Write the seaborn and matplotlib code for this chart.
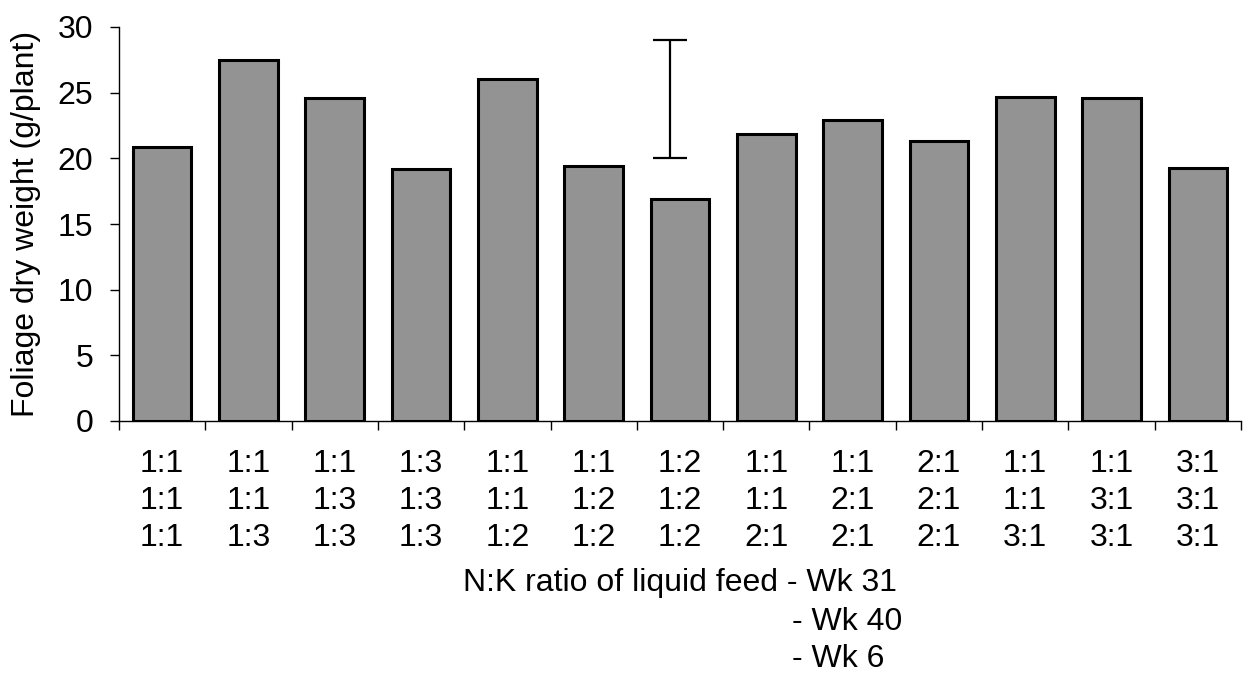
import matplotlib
matplotlib.use("Agg")
import matplotlib.pyplot as plt
import pandas as pd
import seaborn as sns
from matplotlib.ticker import FixedLocator

# N:K ratio of liquid feed at the three dates
wk31 = ["1:1", "1:1", "1:1", "1:3", "1:1", "1:1", "1:2", "1:1", "1:1", "2:1", "1:1", "1:1", "3:1"]
wk40 = ["1:1", "1:1", "1:3", "1:3", "1:1", "1:2", "1:2", "1:1", "2:1", "2:1", "1:1", "3:1", "3:1"]
wk6 = ["1:1", "1:3", "1:3", "1:3", "1:2", "1:2", "1:2", "2:1", "2:1", "2:1", "3:1", "3:1", "3:1"]
foliage_dw = [20.9, 27.45, 24.6, 19.15, 26.05, 19.4, 16.9, 21.85, 22.9, 21.35, 24.65, 24.6, 19.25]

# LSD bar (low, high) and where it sits
lsd_low, lsd_high = 20.0, 29.0
lsd_x = 5.88

FS = 23
W, H = 1252, 680


def main():
    sns.set_theme(style="ticks")
    plt.rcParams["font.family"] = ["Liberation Sans", "DejaVu Sans"]
    plt.rcParams["text.color"] = "black"
    plt.rcParams["xtick.color"] = "black"
    plt.rcParams["ytick.color"] = "black"
    plt.rcParams["axes.labelcolor"] = "black"

    labels = ["\n".join(t) for t in zip(wk31, wk40, wk6)]
    df = pd.DataFrame({"ratio": labels, "dw": foliage_dw})

    fig = plt.figure(figsize=(W / 100, H / 100), dpi=100)
    ax = fig.add_axes([119 / W, 1 - 421 / H, 1122 / W, 394 / H])

    sns.barplot(data=df, x="ratio", y="dw", color="#939393", saturation=1,
                edgecolor="black", linewidth=2.2, width=0.68, ax=ax)

    ax.errorbar(lsd_x, (lsd_low + lsd_high) / 2, yerr=(lsd_high - lsd_low) / 2,
                fmt="none", ecolor="black", elinewidth=1.6, capsize=12, capthick=1.6)

    ax.set_xlim(-0.5, len(labels) - 0.5)
    ax.set_ylim(0, 30)
    ax.set_yticks(range(0, 31, 5))
    ax.tick_params(axis="y", labelsize=FS, length=6.5, width=1, pad=12)
    ax.tick_params(axis="x", which="major", labelsize=FS, length=0, pad=20)
    ax.xaxis.set_minor_locator(FixedLocator([i - 0.5 for i in range(len(labels) + 1)]))
    ax.tick_params(axis="x", which="minor", length=6.5, width=1)
    for lab in ax.get_xticklabels():
        lab.set_linespacing(1.31)

    sns.despine(ax=ax)
    for side in ["left", "bottom"]:
        ax.spines[side].set_color("black")
        ax.spines[side].set_linewidth(1)

    ax.set_xlabel("")
    ax.set_ylabel("Foliage dry weight (g/plant)", fontsize=FS)
    ax.yaxis.set_label_coords(-0.0695, 0.5)

    # x-axis title with the week list hanging under "- Wk 31"
    fig.text(463 / W, 1 - 568 / H, "N:K ratio of liquid feed - Wk 31",
             ha="left", va="top", fontsize=FS)
    fig.text(792 / W, 1 - 607 / H, "- Wk 40\n- Wk 6",
             ha="left", va="top", fontsize=FS, linespacing=1.32)

    fig.savefig("out.png", dpi=100, facecolor="white")
    plt.close(fig)


if __name__ == "__main__":
    main()
